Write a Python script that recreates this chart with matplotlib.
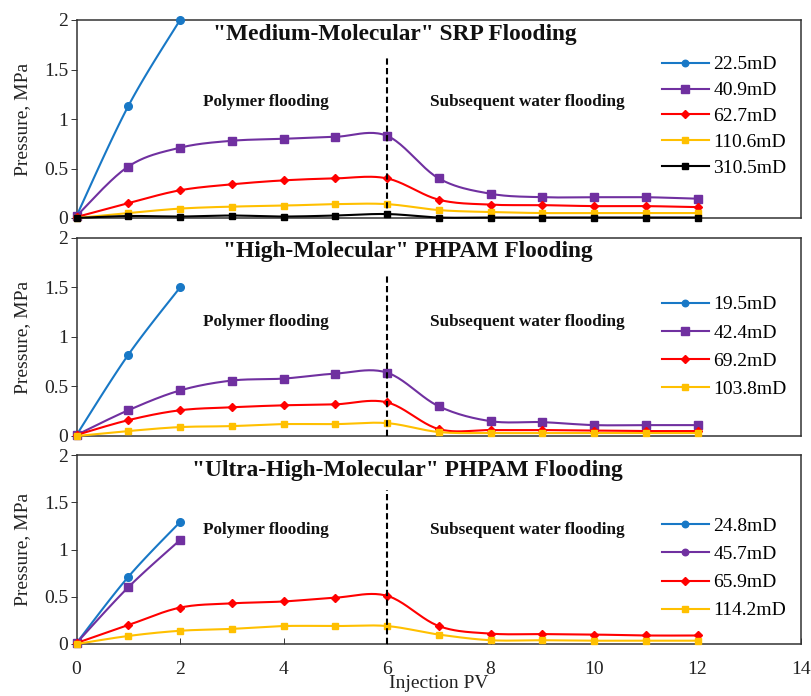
import numpy as np
import matplotlib
matplotlib.use("Agg")
import matplotlib.pyplot as plt
from matplotlib.lines import Line2D

plt.rcParams['font.family'] = ['Liberation Serif', 'DejaVu Serif']

# ---------------- data ----------------
pv_full = [0, 1, 2, 3, 4, 5, 6, 7, 8, 9, 10, 11, 12]
pv_short = [0, 1, 2]

# "Medium-Molecular" SRP flooding
srp_labels = ["22.5mD", "40.9mD", "62.7mD", "110.6mD", "310.5mD"]
srp_225 = [0.02, 1.13, 2.00]
srp_409 = [0.02, 0.52, 0.71, 0.78, 0.80, 0.82, 0.83, 0.40, 0.245, 0.21, 0.21, 0.21, 0.195]
srp_627 = [0.01, 0.15, 0.28, 0.34, 0.38, 0.40, 0.40, 0.185, 0.135, 0.13, 0.12, 0.12, 0.11]
srp_1106 = [0.0, 0.05, 0.095, 0.115, 0.125, 0.14, 0.14, 0.08, 0.06, 0.05, 0.05, 0.05, 0.05]
srp_3105 = [0.0, 0.02, 0.015, 0.025, 0.015, 0.025, 0.04, 0.005, 0.005, 0.005, 0.005, 0.005, 0.005]

# "High-Molecular" PHPAM flooding
hm_labels = ["19.5mD", "42.4mD", "69.2mD", "103.8mD"]
hm_195 = [0.01, 0.82, 1.50]
hm_424 = [0.01, 0.26, 0.46, 0.56, 0.58, 0.63, 0.64, 0.30, 0.15, 0.14, 0.11, 0.11, 0.11]
hm_692 = [0.01, 0.16, 0.26, 0.29, 0.31, 0.32, 0.34, 0.07, 0.06, 0.06, 0.055, 0.05, 0.05]
hm_1038 = [0.0, 0.05, 0.09, 0.10, 0.12, 0.12, 0.13, 0.04, 0.03, 0.03, 0.03, 0.03, 0.03]

# "Ultra-High-Molecular" PHPAM flooding
uh_labels = ["24.8mD", "45.7mD", "65.9mD", "114.2mD"]
uh_248 = [0.01, 0.71, 1.29]
uh_457 = [0.01, 0.60, 1.10]
uh_659 = [0.01, 0.20, 0.385, 0.43, 0.45, 0.49, 0.51, 0.19, 0.11, 0.105, 0.10, 0.09, 0.09]
uh_1142 = [0.0, 0.085, 0.14, 0.16, 0.19, 0.19, 0.19, 0.10, 0.04, 0.04, 0.035, 0.035, 0.035]

titles = ['"Medium-Molecular" SRP Flooding',
          '"High-Molecular" PHPAM Flooding',
          '"Ultra-High-Molecular" PHPAM Flooding']
x_ticks = [0, 2, 4, 6, 8, 10, 12, 14]
y_ticks = [0, 0.5, 1, 1.5, 2]
y_ticklabels = ["0", "0.5", "1", "1.5", "2"]

# ---------------- styles ----------------
BLUE = '#1878C6'
PURPLE = '#7030A0'
RED = '#FF0000'
YELLOW = '#FFC000'
BLACK = '#000000'


def smooth(x, y, n=24):
    """Excel-like smoothed line (Catmull-Rom bezier) through the data points."""
    x = np.asarray(x, float)
    y = np.asarray(y, float)
    P = np.column_stack([x, y])
    if len(P) < 3:
        return x, y
    ext = np.vstack([P[0], P, P[-1]])
    out = []
    t = np.linspace(0, 1, n)[:, None]
    for i in range(len(P) - 1):
        p0, p1, p2, p3 = ext[i], ext[i + 1], ext[i + 2], ext[i + 3]
        c1 = p1 + (p2 - p0) / 6.0
        c2 = p2 - (p3 - p1) / 6.0
        seg = ((1 - t) ** 3) * p1 + 3 * ((1 - t) ** 2) * t * c1 + 3 * (1 - t) * t ** 2 * c2 + t ** 3 * p2
        out.append(seg if i == 0 else seg[1:])
    out = np.vstack(out)
    return out[:, 0], out[:, 1]


style = {
    'circle': dict(marker='o', ms=5.5),
    'square': dict(marker='s', ms=6),
    'diamond': dict(marker='D', ms=4.2),
    'ysquare': dict(marker='s', ms=4.2),
    'bsquare': dict(marker='s', ms=4.2),
}

panels = [
    (titles[0], [(pv_short, srp_225, BLUE, 'circle'),
                 (pv_full, srp_409, PURPLE, 'square'),
                 (pv_full, srp_627, RED, 'diamond'),
                 (pv_full, srp_1106, YELLOW, 'ysquare'),
                 (pv_full, srp_3105, BLACK, 'bsquare')], srp_labels, None),
    (titles[1], [(pv_short, hm_195, BLUE, 'circle'),
                 (pv_full, hm_424, PURPLE, 'square'),
                 (pv_full, hm_692, RED, 'diamond'),
                 (pv_full, hm_1038, YELLOW, 'ysquare')], hm_labels, None),
    (titles[2], [(pv_short, uh_248, BLUE, 'circle'),
                 (pv_short, uh_457, PURPLE, 'square'),
                 (pv_full, uh_659, RED, 'diamond'),
                 (pv_full, uh_1142, YELLOW, 'ysquare')], uh_labels, {1: 'circle'}),
]

W, H = 811, 696
fig = plt.figure(figsize=(W / 100, H / 100), dpi=100)
fig.patch.set_facecolor('white')

# pixel boxes (top, bottom)
boxes = [(20, 218), (238, 436), (455, 644)]
left_px, right_px = 76.5, 801
legend_centers = [116.5, 347, 568.5]
legend_spacing = [0.43, 0.55, 0.54]
title_pos = [(6.15, 1.85), (6.4, 1.86), (6.39, 1.84)]
annot_y = [1.17, 1.15, 1.21]

for k, (title, series, labels, legend_override) in enumerate(panels):
    top, bot = boxes[k]
    ax = fig.add_axes([left_px / W, 1 - bot / H, (right_px - left_px) / W, (bot - top) / H])
    handles = []
    for j, (xs, ys, col, mk) in enumerate(series):
        sx, sy = smooth(xs, ys)
        ax.plot(sx, sy, color=col, lw=1.5, clip_on=False, zorder=3 + j)
        st = style[mk]
        ax.plot(xs, ys, linestyle='none', color=col, marker=st['marker'], ms=st['ms'],
                mec=col, mfc=col, clip_on=False, zorder=3 + j)
        lmk = legend_override.get(j, mk) if legend_override else mk
        lst = style[lmk]
        handles.append(Line2D([], [], color=col, lw=1.5, marker=lst['marker'],
                              ms=lst['ms'] * (0.85 if lmk in ('circle', 'square') else 0.9),
                              mfc=col, mec=col))
    ax.plot([6, 6], [0, 1.63], color='black', lw=1.5, linestyle=(0, (3.0, 1.6)), zorder=10)

    ax.set_xlim(0, 14)
    ax.set_ylim(0, 2)
    ax.set_yticks(y_ticks)
    ax.set_yticklabels(y_ticklabels)
    ax.tick_params(axis='y', direction='out', length=4, width=0.7, pad=2,
                   labelsize=14, colors='#333333', labelcolor='#222222')
    if k == 2:
        ax.set_xticks(x_ticks)
        ax.set_xticklabels([str(v) for v in x_ticks])
        ax.tick_params(axis='x', direction='in', length=4, width=0.7, pad=12,
                       labelsize=14, colors='#333333', labelcolor='#222222')
        ax.set_xlabel('Injection PV', fontsize=14, labelpad=-2, color='#222222')
    else:
        ax.set_xticks([])
    for s in ax.spines.values():
        s.set_color('#333333')
        s.set_linewidth(1.1)
    ax.set_ylabel('Pressure, MPa', fontsize=14, color='#222222', labelpad=9)

    tx, ty = title_pos[k]
    ax.text(tx, ty, title, fontsize=16.8, fontweight='bold', ha='center', va='center', color='#111111')
    ax.text(3.66, annot_y[k], 'Polymer flooding', fontsize=12.3, fontweight='bold',
            ha='center', va='center', color='#111111')
    ax.text(8.72, annot_y[k], 'Subsequent water flooding', fontsize=12.3, fontweight='bold',
            ha='center', va='center', color='#111111')

    fig.legend(handles=handles, labels=labels, loc='center left',
               bbox_to_anchor=(662 / W, 1 - legend_centers[k] / H),
               frameon=False, fontsize=14, handlelength=2.4, handletextpad=0.25,
               borderpad=0, borderaxespad=0, labelspacing=legend_spacing[k])

fig.savefig('out.png', dpi=100, facecolor='white')
